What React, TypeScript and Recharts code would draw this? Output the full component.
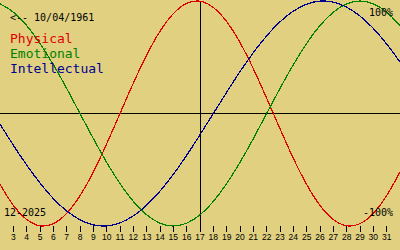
import React from 'react';
import { LineChart, Line, XAxis, YAxis, ReferenceLine } from 'recharts';

// ─── data ─────────────────────────────────────────────────────────────────────

const days = [2, 3, 4, 5, 6, 7, 8, 9, 10, 11, 12, 13, 14, 15, 16, 17, 18, 19, 20, 21, 22, 23, 24, 25, 26, 27, 28, 29, 30, 31, 32];

const physical = [
  -0.631, -0.817, -0.942, -0.998, -0.979, -0.888, -0.731, -0.52, -0.27, 0, 0.27, 0.52, 0.731, 0.888, 0.979, 0.998,
  0.942, 0.817, 0.631, 0.398, 0.136, -0.136, -0.398, -0.631, -0.817, -0.942, -0.998, -0.979, -0.888, -0.731, -0.52,
];

const emotional = [
  0.975, 0.901, 0.782, 0.623, 0.434, 0.223, 0, -0.223, -0.434, -0.623, -0.782, -0.901, -0.975, -1, -0.975, -0.901,
  -0.782, -0.623, -0.434, -0.223, 0, 0.223, 0.434, 0.623, 0.782, 0.901, 0.975, 1, 0.975, 0.901, 0.782,
];

const intellectual = [
  -0.095, -0.282, -0.458, -0.618, -0.756, -0.866, -0.945, -0.99, -0.999, -0.972, -0.91, -0.815, -0.69, -0.541, -0.372,
  -0.189, 0, 0.189, 0.372, 0.541, 0.69, 0.815, 0.91, 0.972, 0.999, 0.99, 0.945, 0.866, 0.756, 0.618, 0.458,
];

const dayTicks = [3, 4, 5, 6, 7, 8, 9, 10, 11, 12, 13, 14, 15, 16, 17, 18, 19, 20, 21, 22, 23, 24, 25, 26, 27, 28, 29, 30, 31];

const today = 17;
const birthLabel = '<-- 10/04/1961';
const monthLabel = '12-2025';

const data = days.map((d, i) => ({
  day: d,
  physical: physical[i],
  emotional: emotional[i],
  intellectual: intellectual[i],
}));

// ─── colours ──────────────────────────────────────────────────────────────────

const BG = '#e0d080';
const RED = '#e00000';
const GREEN = '#008000';
const BLUE = '#000090';
const MONO = '"DejaVu Sans Mono", "Liberation Mono", monospace';

export default function App() {
  return (
    <div style={{ position: 'fixed', left: 0, top: 0, width: 400, height: 250, background: BG }}>
      <LineChart width={400} height={250} data={data} margin={{ top: 1, right: 0, left: 0, bottom: 0 }}>
        <XAxis
          dataKey="day"
          type="number"
          domain={[2, 32]}
          ticks={dayTicks}
          interval={0}
          axisLine={false}
          tickLine={{ stroke: '#000', shapeRendering: 'crispEdges' }}
          tickSize={6}
          height={24}
          tick={{ fontSize: 8.5, fontFamily: '"Liberation Sans", sans-serif', fill: '#000' }}
          allowDataOverflow
        />
        <YAxis hide domain={[-1, 1]} />
        <ReferenceLine y={0} stroke="#000" strokeWidth={1} shapeRendering="crispEdges" />
        <ReferenceLine x={today} stroke="#000" strokeWidth={1} shapeRendering="crispEdges" />
        <Line
          type="natural"
          dataKey="physical"
          stroke={RED}
          strokeWidth={1.2}
          dot={false}
          shapeRendering="crispEdges"
          isAnimationActive={false}
        />
        <Line
          type="natural"
          dataKey="emotional"
          stroke={GREEN}
          strokeWidth={1.2}
          dot={false}
          shapeRendering="crispEdges"
          isAnimationActive={false}
        />
        <Line
          type="natural"
          dataKey="intellectual"
          stroke={BLUE}
          strokeWidth={1.2}
          dot={false}
          shapeRendering="crispEdges"
          isAnimationActive={false}
        />
      </LineChart>
      <svg
        width={400}
        height={250}
        style={{ position: 'absolute', left: 0, top: 0, pointerEvents: 'none' }}
      >
        <text x={10} y={21} fontSize={10} fontFamily={MONO} fill="#000">{birthLabel}</text>
        <text x={10} y={43} fontSize={13} fontFamily={MONO} fill={RED}>Physical</text>
        <text x={10} y={58} fontSize={13} fontFamily={MONO} fill={GREEN}>Emotional</text>
        <text x={10} y={73} fontSize={13} fontFamily={MONO} fill={BLUE}>Intellectual</text>
        <text x={393} y={16} fontSize={10} fontFamily={MONO} fill="#000" textAnchor="end">100%</text>
        <text x={393} y={216} fontSize={10} fontFamily={MONO} fill="#000" textAnchor="end">-100%</text>
        <text x={4} y={216} fontSize={10} fontFamily={MONO} fill="#000">{monthLabel}</text>
      </svg>
    </div>
  );
}
